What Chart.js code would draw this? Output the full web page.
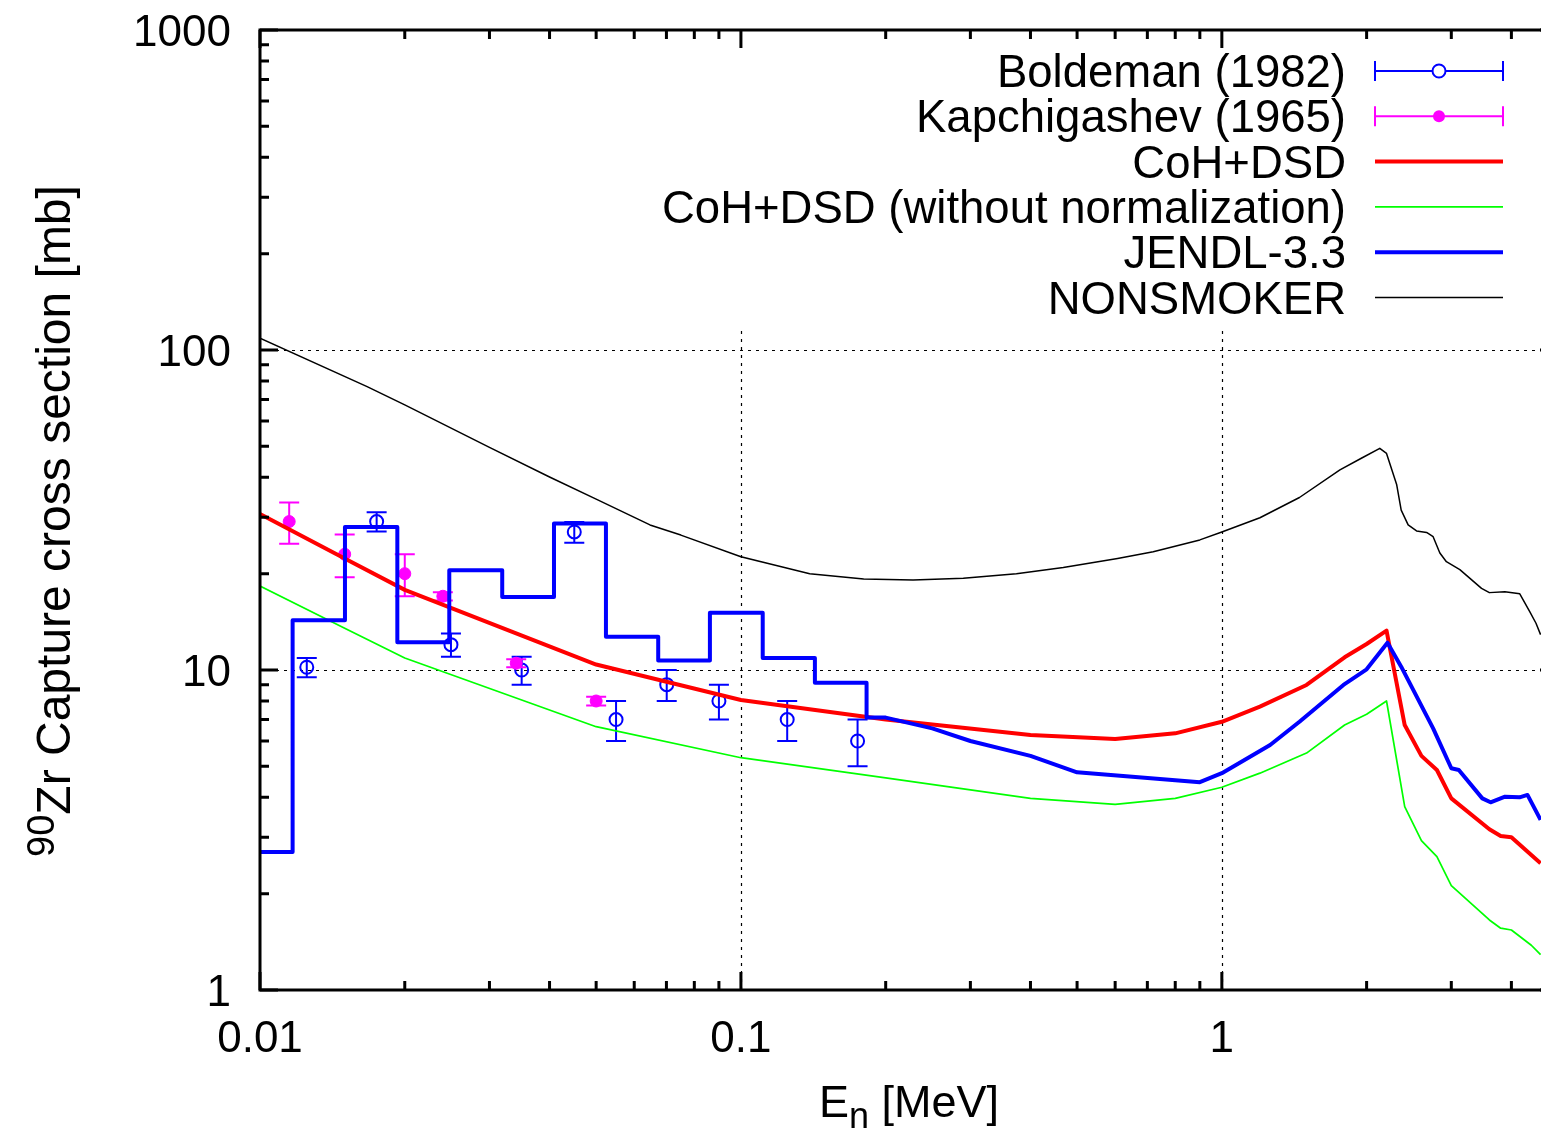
<!DOCTYPE html>
<html>
<head>
<meta charset="utf-8">
<title>90Zr capture cross section</title>
<script src="https://cdn.jsdelivr.net/npm/chart.js@4/dist/chart.umd.min.js"></script>
<style>
  html, body { margin: 0; padding: 0; background: #fff; overflow: hidden; }
  #wrap { position: relative; width: 1541px; height: 1130px; overflow: hidden; }
  canvas { position: absolute; left: 0; top: 0; }
</style>
</head>
<body>
<div id="wrap"><canvas id="c" width="1560" height="1130" style="width:1560px;height:1130px"></canvas></div>
<script>
// ---- measured data: Boldeman (1982) ----
const boldE   = [0.01251, 0.01748, 0.02495, 0.0350, 0.04503, 0.0550, 0.0701, 0.0900, 0.1248, 0.1748];
const boldXS  = [10.2, 29.1, 12.0, 10.0, 27.0, 7.0, 9.0, 8.0, 7.0, 6.0];
const boldErr = [0.7, 2.0, 1.0, 1.0, 2.0, 1.0, 1.0, 1.0, 1.0, 1.0];

// ---- measured data: Kapchigashev (1965) ----
const kapE   = [0.0115, 0.0150, 0.0200, 0.0240, 0.0341, 0.0500];
const kapXS  = [29.1, 23.0, 20.0, 17.0, 10.5, 8.0];
const kapErr = [4.3, 3.5, 3.0, 0.5, 0.3, 0.25];

// ---- CoH+DSD calculation ----
const cohE  = [0.01, 0.015, 0.02, 0.05, 0.1, 0.2, 0.4, 0.6, 0.8, 1.0, 1.2, 1.5, 1.8, 2.0, 2.2, 2.4, 2.6, 2.8, 3.0, 3.6, 3.8, 4.0, 4.4, 4.6];
const cohXS = [30.7, 22.3, 17.8, 10.4, 8.06, 7.0, 6.26, 6.09, 6.34, 6.89, 7.68, 8.98, 10.96, 12.06, 13.27, 6.73, 5.39, 4.87, 3.97, 3.18, 3.03, 3.00, 2.64, 2.49];

// ---- CoH+DSD without normalization ----
const rawE  = [0.01, 0.015, 0.02, 0.05, 0.1, 0.2, 0.4, 0.6, 0.8, 1.0, 1.2, 1.5, 1.8, 2.0, 2.2, 2.4, 2.6, 2.8, 3.0, 3.6, 3.8, 4.0, 4.4, 4.6];
const rawXS = [18.3, 13.5, 10.9, 6.65, 5.32, 4.60, 3.97, 3.80, 3.97, 4.30, 4.76, 5.5, 6.73, 7.27, 8.0, 3.74, 2.93, 2.61, 2.12, 1.655, 1.56, 1.54, 1.38, 1.29];

// ---- JENDL-3.3: resonance-averaged bins, then pointwise ----
const jendlBinEdges = [0.01, 0.01169, 0.01502, 0.01930, 0.02475, 0.03189, 0.04086, 0.05240, 0.0673, 0.0862, 0.1110, 0.1425, 0.1825];
const jendlBinXS    = [2.70, 14.3, 28.0, 12.2, 20.5, 16.9, 28.7, 12.7, 10.7, 15.1, 10.9, 9.13];
const jendlE  = [0.1825, 0.2, 0.25, 0.3, 0.4, 0.5, 0.9, 1.0, 1.26, 1.45, 1.79, 2.0, 2.21, 2.36, 2.75, 3.0, 3.11, 3.48, 3.62, 3.88, 4.16, 4.32, 4.6];
const jendlXS = [7.11, 7.1, 6.57, 6.0, 5.39, 4.79, 4.46, 4.76, 5.83, 6.89, 8.98, 10.05, 12.17, 10.24, 6.57, 4.93, 4.87, 3.97, 3.86, 4.02, 4.00, 4.07, 3.40];

// ---- NONSMOKER ----
const nsmE  = [0.01, 0.0167, 0.02, 0.03, 0.04, 0.05, 0.0647, 0.075, 0.1, 0.139, 0.18, 0.228, 0.29, 0.374, 0.468, 0.607, 0.72, 0.9, 1.0, 1.2, 1.45, 1.76, 1.95, 2.13, 2.2, 2.31, 2.36, 2.44, 2.54, 2.665, 2.75, 2.84, 2.93, 3.125, 3.467, 3.6, 3.876, 4.164, 4.37, 4.5, 4.6];
const nsmXS = [108.8, 76.8, 67.4, 49.6, 40.1, 34.2, 28.4, 26.4, 22.6, 20.0, 19.25, 19.1, 19.35, 20.0, 20.9, 22.3, 23.4, 25.5, 27.0, 29.9, 34.6, 42.2, 45.9, 49.3, 47.5, 37.9, 31.6, 28.4, 27.2, 26.9, 26.1, 23.2, 21.8, 20.6, 18.0, 17.45, 17.57, 17.3, 15.2, 14.0, 12.9];

// ---- axes ----
const xRange = [0.01, 5];
const yRange = [1, 1000];
const xTickLabels = ['0.01', '0.1', '1'];
const xTickValues = [0.01, 0.1, 1];
const yTickLabels = ['1', '10', '100', '1000'];
const yTickValues = [1, 10, 100, 1000];
const xGridValues = [0.1, 1];
const yGridValues = [10, 100];

const legendLabels = ['Boldeman (1982)', 'Kapchigashev (1965)', 'CoH+DSD',
  'CoH+DSD (without normalization)', 'JENDL-3.3', 'NONSMOKER'];

// ---------------------------------------------------------------
const FONT = "'Liberation Sans', Arial, Helvetica, sans-serif";
const BLUE = '#0000ff', RED = '#ff0000', GREEN = '#00ff00', MAGENTA = '#ff00ff', BLACK = '#000000';

const pts = (xs, ys) => xs.map((v, i) => ({ x: v, y: ys[i] }));

function histogramPoints(edges, vals) {
  const out = [];
  vals.forEach((v, i) => {
    out.push({ x: edges[i], y: v });
    out.push({ x: edges[i + 1], y: v });
  });
  return out;
}

const jendlPoints = histogramPoints(jendlBinEdges, jendlBinXS).concat(pts(jendlE, jendlXS));

function lineSet(label, data, color, width, order) {
  return {
    label, data, order,
    showLine: true, borderColor: color, backgroundColor: color,
    borderWidth: width, pointRadius: 0, pointHoverRadius: 0,
    tension: 0, borderJoinStyle: 'round', borderCapStyle: 'butt', fill: false
  };
}

const datasets = [
  {
    label: legendLabels[0], data: pts(boldE, boldXS), order: 10, showLine: false,
    pointStyle: 'circle', pointRadius: 6.5, pointBorderWidth: 2,
    pointBorderColor: BLUE, pointBackgroundColor: 'rgba(0,0,0,0)'
  },
  {
    label: legendLabels[1], data: pts(kapE, kapXS), order: 9, showLine: false,
    pointStyle: 'circle', pointRadius: 6, pointBorderWidth: 1,
    pointBorderColor: MAGENTA, pointBackgroundColor: MAGENTA
  },
  lineSet(legendLabels[2], pts(cohE, cohXS), RED, 4, 4),
  lineSet(legendLabels[3], pts(rawE, rawXS), GREEN, 1.7, 3),
  lineSet(legendLabels[4], jendlPoints, BLUE, 4, 2),
  lineSet(legendLabels[5], pts(nsmE, nsmXS), BLACK, 1.5, 1)
];

function drawErrorBars(chart, xs, ys, errs, color) {
  const { ctx, scales: { x, y } } = chart;
  ctx.save();
  ctx.strokeStyle = color;
  ctx.lineWidth = 2;
  ctx.setLineDash([]);
  xs.forEach((v, i) => {
    const px = x.getPixelForValue(v);
    const top = y.getPixelForValue(ys[i] + errs[i]);
    const bot = y.getPixelForValue(ys[i] - errs[i]);
    ctx.beginPath();
    ctx.moveTo(px, top); ctx.lineTo(px, bot);
    ctx.moveTo(px - 10, top); ctx.lineTo(px + 10, top);
    ctx.moveTo(px - 10, bot); ctx.lineTo(px + 10, bot);
    ctx.stroke();
  });
  ctx.restore();
}

const KEY_BOTTOM = 326;   // grid lines stop under the key

const gnuFrame = {
  id: 'gnuFrame',
  beforeDatasetsDraw(chart) {
    const { ctx, chartArea: a, scales: { x, y } } = chart;
    ctx.save();
    ctx.strokeStyle = '#000';
    ctx.lineWidth = 1.2;
    ctx.setLineDash([3, 5]);
    yGridValues.forEach(v => {
      const py = Math.round(y.getPixelForValue(v)) + 0.5;
      ctx.beginPath(); ctx.moveTo(a.left, py); ctx.lineTo(a.right, py); ctx.stroke();
    });
    xGridValues.forEach(v => {
      const px = Math.round(x.getPixelForValue(v)) + 0.5;
      ctx.beginPath(); ctx.moveTo(px, a.bottom); ctx.lineTo(px, KEY_BOTTOM); ctx.stroke();
    });
    ctx.restore();
    drawErrorBars(chart, boldE, boldXS, boldErr, BLUE);
    drawErrorBars(chart, kapE, kapXS, kapErr, MAGENTA);
  },
  afterDatasetsDraw(chart) {
    const { ctx, chartArea: a, scales: { x, y } } = chart;
    ctx.save();
    ctx.setLineDash([]);
    ctx.strokeStyle = '#000';
    ctx.lineWidth = 3;

    // ticks: decades major, 2..9 minor, mirrored on both sides
    ctx.beginPath();
    for (let d = -2; d <= 0; d++) {
      for (let m = 1; m <= 9; m++) {
        const v = m * Math.pow(10, d);
        if (v < xRange[0] || v > xRange[1]) continue;
        const px = x.getPixelForValue(v);
        const len = m === 1 ? 18 : 9;
        ctx.moveTo(px, a.bottom); ctx.lineTo(px, a.bottom - len);
        ctx.moveTo(px, a.top); ctx.lineTo(px, a.top + len);
      }
    }
    for (let d = 0; d <= 3; d++) {
      for (let m = 1; m <= 9; m++) {
        const v = m * Math.pow(10, d);
        if (v < yRange[0] || v > yRange[1]) continue;
        const py = y.getPixelForValue(v);
        const len = m === 1 ? 18 : 9;
        ctx.moveTo(a.left, py); ctx.lineTo(a.left + len, py);
        ctx.moveTo(a.right, py); ctx.lineTo(a.right - len, py);
      }
    }
    ctx.stroke();

    // border
    ctx.lineWidth = 3;
    ctx.strokeRect(a.left, a.top, a.right - a.left, a.bottom - a.top);

    // tick labels
    ctx.fillStyle = '#000';
    ctx.font = '44px ' + FONT;
    ctx.textAlign = 'center';
    ctx.textBaseline = 'alphabetic';
    xTickValues.forEach((v, i) => ctx.fillText(xTickLabels[i], x.getPixelForValue(v), 1052));
    ctx.textAlign = 'right';
    yTickValues.forEach((v, i) => ctx.fillText(yTickLabels[i], 231, y.getPixelForValue(v) + 15.5));

    // x-axis title: E_n [MeV]
    const cx = (a.left + a.right) / 2;
    const big = '45px ' + FONT, small = '36px ' + FONT;
    ctx.font = big; const wE = ctx.measureText('E').width;
    ctx.font = small; const wN = ctx.measureText('n').width;
    ctx.font = big; const wU = ctx.measureText(' [MeV]').width;
    let sx = cx - (wE + wN + wU) / 2;
    ctx.textAlign = 'left';
    ctx.font = big; ctx.fillText('E', sx, 1117);
    ctx.font = small; ctx.fillText('n', sx + wE, 1128);
    ctx.font = big; ctx.fillText(' [MeV]', sx + wE + wN, 1117);

    // y-axis title: 90Zr Capture cross section [mb]
    const yBig = '48px ' + FONT, ySmall = '38px ' + FONT;
    ctx.save();
    ctx.translate(70, 521);
    ctx.rotate(-Math.PI / 2);
    ctx.font = ySmall; const wS = ctx.measureText('90').width;
    ctx.font = yBig; const wT = ctx.measureText('Zr Capture cross section [mb]').width;
    const s0 = -(wS + wT) / 2;
    ctx.textAlign = 'left';
    ctx.font = ySmall; ctx.fillText('90', s0, -16);
    ctx.font = yBig; ctx.fillText('Zr Capture cross section [mb]', s0 + wS, 0);
    ctx.restore();

    // key
    const rowY = i => 71 + 45.3 * i;
    const tx = 1346, l0 = 1375, l1 = 1503, lm = (l0 + l1) / 2;
    ctx.font = '45.5px ' + FONT;
    ctx.textAlign = 'right';
    legendLabels.forEach((t, i) => ctx.fillText(t, tx, rowY(i) + 16));

    // error-bar samples
    [[BLUE, false], [MAGENTA, true]].forEach(([col, filled], i) => {
      const ry = rowY(i);
      ctx.strokeStyle = col; ctx.lineWidth = 2;
      ctx.beginPath();
      ctx.moveTo(l0, ry); ctx.lineTo(l1, ry);
      ctx.moveTo(l0, ry - 10); ctx.lineTo(l0, ry + 10);
      ctx.moveTo(l1, ry - 10); ctx.lineTo(l1, ry + 10);
      ctx.stroke();
      ctx.beginPath();
      ctx.arc(lm, ry, filled ? 6 : 6.5, 0, Math.PI * 2);
      if (filled) { ctx.fillStyle = col; ctx.fill(); }
      else { ctx.fillStyle = '#fff'; ctx.fill(); ctx.stroke(); }
    });
    // line samples
    [[RED, 4], [GREEN, 1.7], [BLUE, 4], [BLACK, 1.5]].forEach(([col, w], k) => {
      const ry = rowY(k + 2);
      ctx.strokeStyle = col; ctx.lineWidth = w;
      ctx.beginPath(); ctx.moveTo(l0, ry); ctx.lineTo(l1, ry); ctx.stroke();
    });
    ctx.restore();
  }
};

new Chart(document.getElementById('c'), {
  type: 'scatter',
  data: { datasets },
  options: {
    responsive: false,
    animation: false,
    devicePixelRatio: 1,
    layout: { autoPadding: false, padding: { left: 260, top: 30, right: 2, bottom: 140 } },
    plugins: { legend: { display: false }, tooltip: { enabled: false } },
    scales: {
      x: { type: 'logarithmic', min: xRange[0], max: xRange[1], display: false },
      y: { type: 'logarithmic', min: yRange[0], max: yRange[1], display: false }
    }
  },
  plugins: [gnuFrame]
});
</script>
</body>
</html>
